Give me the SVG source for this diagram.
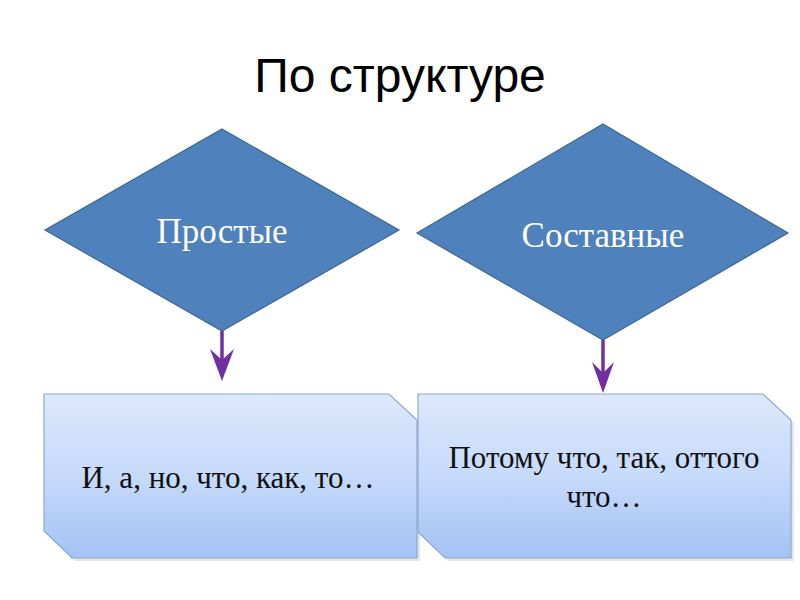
<svg xmlns="http://www.w3.org/2000/svg" width="800" height="600" viewBox="0 0 800 600">
<style>
.dia{fill:#4f81bd;stroke:#3c6796;stroke-width:1.2}
.box{fill:url(#g);stroke:#8aaad4;stroke-width:1.2}
.shadow{fill:#000;opacity:0.1}
.dl{font-family:"Liberation Serif","Times New Roman",serif;font-size:35px;fill:#fff;text-anchor:middle}
.bl{font-family:"Liberation Serif","Times New Roman",serif;font-size:31px;fill:#111;text-anchor:middle}
.title{font-family:"Liberation Sans",Arial,sans-serif;font-size:48px;fill:#000;text-anchor:middle}
.conn line{stroke:#7030a0;stroke-width:3.5}
.conn path{fill:#7030a0}
</style>
<defs>
<linearGradient id="g" x1="0" y1="0" x2="0" y2="1">
<stop offset="0" stop-color="#dde8fb"/>
<stop offset="0.5" stop-color="#c6dafa"/>
<stop offset="1" stop-color="#a4c2f4"/>
</linearGradient>
</defs>
<rect width="800" height="600" fill="#fff"/>
<text class="title" x="400" y="92">По структуре</text>
<g id="node-prostye">
<polygon class="dia" points="222,129 399,230 222,331 45,230"/>
<text class="dl" x="222" y="243">Простые</text>
</g>
<g id="node-sostavnye">
<polygon class="dia" points="603,124 788,233 603,340 417,233"/>
<text class="dl" x="603" y="247">Составные</text>
</g>
<g id="node-box1">
<polygon class="shadow" points="47,397 392,397 420,423 420,561 75,561 47,534"/>
<polygon class="box" points="44,394 389,394 417,420 417,558 72,558 44,531"/>
<text class="bl" x="228" y="488">И, а, но, что, как, то…</text>
</g>
<g id="node-box2">
<polygon class="shadow" points="421,397 766,397 794,423 794,561 448,561 421,535"/>
<polygon class="box" points="418,394 763,394 791,420 791,558 445,558 418,532"/>
<text class="bl" x="604" y="468">Потому что, так, оттого</text>
<text class="bl" x="604" y="507">что…</text>
</g>
<g class="conn" id="connectors">
<line x1="222" y1="331" x2="222" y2="370"/>
<path d="M222,381 L210,349 L222,360 L234,349 Z"/>
<line x1="603" y1="340" x2="603" y2="382"/>
<path d="M603,393 L592,362 L603,373 L614,362 Z"/>
</g>
</svg>
